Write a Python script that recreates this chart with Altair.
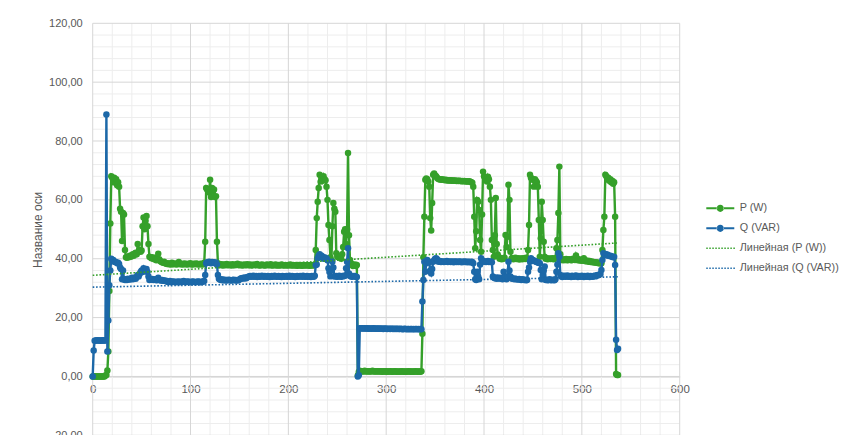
import altair as alt
import pandas as pd

# ---------------- data ----------------
# P (W), one value per sample index 0..537
P_W = [
    0, 0, 0, 0, 0, 0, 0, 0, 0, 0, 0, 0, 0,
    0.3, 0.5, 2, 8.5, 29, 52, 68, 67.5, 66, 67.5, 66, 67, 65, 66, 64.5, 57, 56, 46, 55.5, 55, 43,
    40.5, 40.3, 40.8, 40.5, 41, 40.7, 41.2, 41.5, 41, 41.8, 42, 41.5, 45, 42.5, 43, 42.4, 42.8, 51, 54, 50, 53, 54.5, 51, 45,
    40.7, 40.5, 40.2, 40.5, 40, 39.8, 40.3, 39.5, 40, 41.7, 39.8, 39.2, 39, 38.8, 38.6, 39, 38.5, 38.4,
    # 76-114
    38.2, 38.5, 38.1, 38.3, 38.0, 38.6, 38.2, 38.1, 38.4, 38.2,
    38.0, 38.3, 38.9, 38.2, 38.1, 38.3, 38.0, 38.2, 38.4, 38.1,
    38.2, 38.0, 38.3, 38.2, 38.5, 38.1, 38.0, 38.2, 38.3, 38.1,
    38.4, 38.2, 38.0, 38.1, 38.3, 38.2, 38.0, 38.2, 38.6,
    # 115-128
    45.8, 64, 63.5, 63, 62.5, 66.8, 61, 64, 63, 63.5, 61, 61.2, 45.8, 38.5,
    # 129-227
    37.8, 38.0, 37.9, 38.1, 37.7, 37.9, 38.0, 37.8, 38.2, 37.9,
    37.8, 38.0, 37.9, 37.7, 38.1, 37.9, 37.8, 38.0, 37.9, 38.3,
    37.9, 37.8, 38.0, 37.9, 37.7, 37.9, 38.0, 37.8, 37.9, 38.1,
    37.8, 37.9, 38.0, 37.7, 37.9, 37.8, 38.0, 37.9, 37.8, 38.2,
    37.9, 37.8, 37.7, 37.9, 38.0, 37.8, 37.9, 37.7, 37.8, 38.0,
    37.9, 37.8, 37.9, 38.1, 37.7, 37.8, 37.9, 37.8, 38.0, 37.7,
    37.8, 37.9, 37.7, 37.8, 38.0, 37.9, 37.7, 37.8, 37.9, 37.8,
    37.7, 37.9, 37.8, 38.0, 37.7, 37.8, 37.9, 37.7, 37.8, 37.9,
    37.6, 37.8, 37.9, 37.7, 37.8, 37.6, 37.9, 37.8, 37.7, 37.8,
    37.9, 37.7, 37.8, 37.6, 37.8, 37.9, 37.7, 37.8, 37.9,
    # 228-270
    43, 53.8, 59.4, 64, 68.5, 66.2, 67.5, 66.5, 68, 67,
    66.7, 64.5, 60, 51.5, 46.4, 40.5, 39.5, 51, 58.9, 57,
    56, 41.9, 40.7, 40.5, 40.7, 40.7, 40, 41.5, 44, 49.2,
    50, 45, 50, 75.9, 48, 39.6, 38.5, 38, 37.5, 37.9,
    38, 37.5, 37.9,
    # 271-336
    0.3, 1.5,
    1.9, 1.8, 1.8, 1.7, 1.8, 1.9, 1.7, 1.8, 1.8, 1.7,
    1.8, 1.7, 1.8, 1.9, 1.7, 1.8, 1.7, 1.8, 1.7, 1.8,
    1.7, 1.8, 1.7, 1.6, 1.8, 1.7, 1.7, 1.8, 1.6, 1.7,
    1.7, 1.8, 1.7, 1.6, 1.7, 1.7, 1.8, 1.7, 1.6, 1.7,
    1.7, 1.6, 1.7, 1.8, 1.7, 1.6, 1.7, 1.7, 1.6, 1.7,
    1.8, 1.7, 1.6, 1.7, 1.7, 1.6, 1.7, 1.8, 1.7, 1.6,
    1.7, 1.7, 1.6, 1.8,
    # 337-353
    14.5, 40.5, 54.3, 66.8, 67.3, 67, 66.2, 64.5, 53.8, 49.6, 58.9, 68.5, 69, 68.3, 68, 67.5, 67.2,
    # 354-388
    67.0, 66.9, 67.0, 66.8, 66.9, 66.8, 66.7, 66.8, 66.7, 66.6,
    66.7, 66.6, 66.7, 66.5, 66.6, 66.5, 66.6, 66.5, 66.4, 66.5,
    66.4, 66.5, 66.4, 66.3, 66.4, 66.3, 66.4, 66.3, 66.2, 66.3,
    66.2, 66.3, 66.2, 66.0, 65.8,
    # 389-444
    64.5, 54.3, 43.6, 49.3, 60, 59.4, 56.6, 46.4, 42.4, 55,
    69.6, 68, 67.5, 66.8, 66.2, 67.9, 67, 64.5, 60, 46.4,
    43, 40.7, 48, 60.6, 45, 41.4, 40.7, 40, 40.2, 39.8,
    40.1, 40, 40.3, 48.1, 44, 47.5, 65.1, 60, 42.4, 40,
    40.2, 39.8, 40.1, 40.3, 39.9, 40, 40.2, 39.7, 40, 40.1, 39.8, 40.2, 40, 39.9, 40.3, 40.1,
    # 445-537
    43, 51.5, 68.5, 67.5, 67, 66.8, 64.5, 67, 66.5, 66,
    64.5, 53.2, 40.7, 47, 59.4, 53.2, 45.8, 40.7, 40, 40.2,
    39.8, 40, 40.1, 39.9, 40, 40.2, 39.8, 40,
    40.2, 43.6, 46.4, 55.5, 71.3, 41.5,
    39.6, 39.8, 39.5, 39.7, 39.6, 39.9, 39.5, 39.6, 39.8, 39.7, 39.5, 39.6, 40.0, 39.7, 39.6,
    41.1, 40,
    39.5, 39.8, 39.4, 39.6, 39.3, 39.5, 40.2, 39.2, 39.4, 39.1, 39.3, 39.0,
    39.2, 38.9, 39.1, 38.8, 38.9, 38.7, 38.8, 38.6, 38.7, 38.5, 38.6, 38.4,
    38.5, 43, 49.8, 54.3, 68.5, 68, 67, 67.5, 66.5, 67,
    66, 66.5, 65.5, 66, 54.3, 0.8, 0.5, 0.5,
]

# Q (VAR), one value per sample index 0..537
Q_VAR = [
    0, 8.8,
    12.1, 12.2, 12.2, 12.3, 12.2, 12.2, 12.1, 12.2, 12.3, 12.2, 12.2, 12.2,
    89, 8.5, 19, 31, 36, 40, 39.5, 39.6, 39, 39, 38.8, 38.5, 38.6, 38.2, 37, 36.5, 33, 36, 33, 32.8,
    33, 32.8, 33.2, 33, 32.9, 33.1, 33.5, 33, 33.3, 33.6, 33.2, 33.8,
    34.5, 34, 34.8, 35.5, 36, 35.5, 36.8, 36, 35.8, 36.5, 35.5, 34,
    32.8, 33, 32.9, 33.1, 32.8, 32.9, 33, 32.7, 32.8, 33.5, 32.8, 32.7, 32.6, 32.8, 32.5, 32.6, 32.4, 32.5,
    # 76-114
    32.3, 32.1, 32.2, 32.4, 32.0, 32.2, 32.3, 32.1, 32.2, 32.0,
    32.2, 32.1, 32.3, 32.0, 32.2, 32.1, 32.2, 32.4, 32.1, 32.0,
    32.2, 32.3, 32.1, 32.2, 32.0, 32.1, 32.3, 32.2, 32.1, 32.0,
    32.2, 32.1, 32.3, 32.2, 32.0, 32.1, 32.2, 32.3, 32.4,
    # 115-128
    34.5, 38.5, 38.8, 38.6, 39, 38.7, 38.5, 38.9, 38.6, 38.8, 38.5, 38.7, 38, 34.5,
    # 129-227
    33.2, 32.9, 32.8, 33.0, 32.7, 32.8, 32.9, 32.6, 32.8, 32.7,
    32.9, 32.8, 32.6, 32.7, 32.8, 32.9, 32.7, 32.8, 32.6, 32.8,
    32.7, 32.9,
    33.2, 33.4, 33.3, 33.5, 33.3, 33.6, 33.4, 33.7,
    33.9, 34.0, 34.1, 33.9, 34.0, 34.2, 33.9, 34.0, 34.1, 33.8,
    34.0, 34.1, 33.9, 34.0, 34.2, 34.0, 33.9, 34.1, 34.0, 33.9,
    34.1, 34.0, 33.8, 34.0, 34.1, 33.9, 34.0, 34.2, 34.0, 33.9,
    34.0, 34.1, 33.9, 34.0, 33.8, 34.1, 34.0, 33.9, 34.0, 34.1,
    33.9, 34.0, 34.2, 33.9, 34.0, 34.1, 33.9, 34.0, 33.8, 34.0,
    34.1, 33.9, 34.0, 34.1, 34.0, 33.9, 34.2, 34.0, 33.9, 34.0,
    34.1, 33.9, 34.0, 34.0, 33.8, 34.1, 34.0, 33.9, 34.2,
    # 228-270
    37.9, 38, 40.2, 41, 41.5, 40.5, 41, 40.5, 40, 40.5,
    40, 40.2, 39.5, 36.8, 35.5, 34, 36, 39, 37, 34,
    34, 34.1, 33.9, 34, 34.2, 34, 33.9, 34.1, 34, 34.2,
    34.2, 36.8, 39, 43.6, 35, 34.2, 34, 33.9, 34.1, 34,
    34.1, 33.9, 33.8,
    # 271-336
    0, 0.4, 16.4,
    16.4, 16.3, 16.4, 16.3, 16.4, 16.3, 16.3, 16.4, 16.2, 16.3,
    16.3, 16.2, 16.3, 16.4, 16.2, 16.3, 16.2, 16.3, 16.2, 16.3,
    16.2, 16.2, 16.3, 16.1, 16.2, 16.3, 16.2, 16.1, 16.2, 16.2,
    16.1, 16.2, 16.2, 16.1, 16.2, 16.1, 16.2, 16.1, 16.2, 16.1,
    16.1, 16.2, 16.1, 16.0, 16.1, 16.2, 16.1, 16.0, 16.1, 16.1,
    16.0, 16.1, 16.1, 16.0, 16.1, 16.0, 16.1, 16.1, 16.0, 16.1,
    16.0, 16.1,
    16.0,
    # 337-388
    25.5, 32.8, 39, 35.6, 38.5, 39.6, 39, 38.8, 36, 35,
    36.5, 39, 39.5, 40, 40.2, 39.8,
    39.1, 39.0, 39.2, 38.9, 39.1, 39.0, 38.9, 39.1, 39.0, 39.2,
    38.9, 39.0, 39.1, 38.9, 39.0, 39.1, 38.8, 39.0, 39.1, 38.9,
    39.0, 38.9, 39.1, 39.0, 38.8, 39.0, 38.9, 39.1, 38.9, 39.0,
    38.8, 39.0, 38.9, 38.8, 39.0, 38.9,
    # 389-444
    38.5, 35.6, 33, 32.8, 35.6, 34, 33, 38, 40.2, 39.5,
    39.2, 39, 39.1, 38.9, 39, 39.2, 38.9, 39, 39.1, 38.8,
    34, 33.6, 33.4, 33.5, 33.2, 33.6, 33.4, 33.3, 33.5, 33.2,
    33, 35.6, 34, 33.5, 33, 34, 39, 36, 34, 33.4,
    33.2, 33.3, 33.0, 33.2, 33.1, 32.9, 33.0, 33.1, 32.9, 32.8, 33.0, 32.9, 32.8, 32.9, 32.7, 32.8,
    # 445-537
    35.6, 37, 39, 40.2, 39.5, 39.6, 39.3, 39.2, 39, 38.9,
    38.7, 38.6, 38.5, 36.2, 33, 34.5, 36, 37.4,
    32.8, 32.9, 32.7, 32.8, 33.0, 32.8, 32.7, 32.9, 32.8, 32.7, 33.0,
    35.6, 38, 41.9, 40.7, 34.5,
    34.0, 33.8, 34.1, 34.2, 33.9, 34.0, 34.3, 33.9, 34.1, 34.0,
    33.8, 34.2, 34.0, 33.9, 34.1, 34.3, 34.0, 33.8, 34.1, 34.0,
    33.9, 34.2, 34.0, 33.8, 34.1, 34.0, 33.9, 34.2, 34.0, 33.8,
    34.1, 34.0, 33.9, 34.1, 34.2, 34.0, 34.3, 34.5, 34.4, 34.6, 34.8,
    36.2, 39.6, 41.9, 41.5, 41.6, 41.2, 41.4, 41, 41.1, 40.8,
    40.9, 40.7, 40.5, 40.7, 37.9, 12.5, 9, 9.4,
]

X_TICKS = [0, 100, 200, 300, 400, 500, 600]
Y_TICKS = [-20, 0, 20, 40, 60, 80, 100, 120]
X_MINOR = [20, 40, 60, 80, 120, 140, 160, 180, 220, 240, 260, 280, 320, 340, 360, 380,
           420, 440, 460, 480, 520, 540, 560, 580]
Y_MINOR = [-16, -12, -8, -4, 4, 8, 12, 16, 24, 28, 32, 36, 44, 48, 52, 56, 64, 68, 72, 76,
           84, 88, 92, 96, 104, 108, 112, 116]
LEGEND_LABELS = ["P (W)", "Q (VAR)", "Линейная (P (W))", "Линейная (Q (VAR))"]
Y_TITLE = "Название оси"

# ---------------- styling ----------------
GREEN = "#35a02a"
BLUE = "#1c68a8"
TXT = "#595959"
FONT = "Liberation Sans"
W, H = 587, 412
X_MIN, X_MAX = 0, 600
Y_MIN, Y_MAX = -20, 120

dp = pd.DataFrame({"x": list(range(len(P_W))), "P": P_W})
dq = pd.DataFrame({"x": list(range(len(Q_VAR))), "Q": Q_VAR})

xs = alt.Scale(domain=[X_MIN, X_MAX], nice=False, zero=False)
ys = alt.Scale(domain=[Y_MIN, Y_MAX], nice=False, zero=False)

x_axis = alt.Axis(
    values=X_TICKS, title=None, grid=False, ticks=False, domain=True,
    domainColor="#c4c4c4", labelPadding=7, labelFontSize=11.5, labelColor=TXT,
    labelFont=FONT, labelFlush=False,
    offset=-H * (0 - Y_MIN) / (Y_MAX - Y_MIN),
)
y_axis = alt.Axis(
    values=Y_TICKS, title=Y_TITLE, grid=False, ticks=False, domain=False,
    labelPadding=10.5, labelFontSize=11, labelColor=TXT, labelFont=FONT, labelFlush=False,
    labelExpr="(datum.value < 0 ? '-' : '') + replace(format(abs(datum.value), '.2f'), '.', ',')",
    titleFont=FONT, titleFontSize=12, titleColor=TXT, titleFontWeight="normal",
    titleX=-54.7, titleY=H / 2, titleBaseline="middle", titleAlign="center",
)

minor_x = alt.Chart(pd.DataFrame({"v": X_MINOR})).mark_rule(color="#ededed", strokeWidth=1).encode(
    x=alt.X("v:Q", scale=xs, axis=x_axis))
minor_y = alt.Chart(pd.DataFrame({"v": Y_MINOR})).mark_rule(color="#ededed", strokeWidth=1).encode(
    y=alt.Y("v:Q", scale=ys, axis=y_axis))
major_x = alt.Chart(pd.DataFrame({"v": X_TICKS})).mark_rule(color="#d6d6d6", strokeWidth=1).encode(
    x=alt.X("v:Q", scale=xs, axis=x_axis))
major_y = alt.Chart(pd.DataFrame({"v": Y_TICKS})).mark_rule(color="#d6d6d6", strokeWidth=1).encode(
    y=alt.Y("v:Q", scale=ys, axis=y_axis))

enc_p = dict(x=alt.X("x:Q", scale=xs, axis=x_axis), y=alt.Y("P:Q", scale=ys, axis=y_axis))
enc_q = dict(x=alt.X("x:Q", scale=xs, axis=x_axis), y=alt.Y("Q:Q", scale=ys, axis=y_axis))

p_line = alt.Chart(dp).mark_line(color=GREEN, strokeWidth=2.4).encode(**enc_p)
p_pts = alt.Chart(dp).mark_circle(color=GREEN, size=42, opacity=1).encode(**enc_p)
q_line = alt.Chart(dq).mark_line(color=BLUE, strokeWidth=2.4).encode(**enc_q)
q_pts = alt.Chart(dq).mark_circle(color=BLUE, size=42, opacity=1).encode(**enc_q)

p_trend = alt.Chart(dp).transform_regression("x", "P").mark_line(
    color=GREEN, strokeWidth=1.6, strokeDash=[1.6, 1.8]).encode(**enc_p)
q_trend = alt.Chart(dq).transform_regression("x", "Q").mark_line(
    color=BLUE, strokeWidth=1.6, strokeDash=[1.6, 1.8]).encode(**enc_q)

# legend symbols (unit coords, scaled by sqrt(size)/2)
MARK_PATH = ("M-2,-0.15H-0.45V0.15H-2Z M0.45,-0.15H2V0.15H0.45Z "
             "M-0.52,0A0.52,0.52 0 1,0 0.52,0A0.52,0.52 0 1,0 -0.52,0Z")
DOT_PATH = " ".join(
    "M{:.2f},-0.1h0.21v0.2h-0.21Z".format(-2 + 0.43 * i) for i in range(10))

leg = alt.Legend(
    title=None, orient="none", legendX=620.6, legendY=178, padding=0,
    symbolSize=196, symbolStrokeWidth=0, symbolOpacity=1,
    labelFont=FONT, labelFontSize=10.8, labelColor=TXT, labelOffset=12.5,
    rowPadding=8, labelLimit=0,
)
legend_layer = alt.Chart(pd.DataFrame({"series": LEGEND_LABELS})).mark_point(
    filled=True, opacity=0).encode(
    color=alt.Color("series:N", sort=LEGEND_LABELS,
                    scale=alt.Scale(domain=LEGEND_LABELS, range=[GREEN, BLUE, GREEN, BLUE]),
                    legend=leg),
    shape=alt.Shape("series:N", sort=LEGEND_LABELS,
                    scale=alt.Scale(domain=LEGEND_LABELS,
                                    range=[MARK_PATH, MARK_PATH, DOT_PATH, DOT_PATH]),
                    legend=leg),
)

chart = alt.layer(
    minor_x, minor_y, major_x, major_y,
    p_line, p_pts, q_line, q_pts, p_trend, q_trend, legend_layer,
).properties(
    width=W, height=H,
    autosize=alt.AutoSizeParams(type="none"),
    padding={"left": 84.7, "top": 15.3, "right": 161, "bottom": 0},
).configure(background="white").configure_view(stroke=None)

chart.save("out.html", embed_options={"renderer": "svg", "actions": False})
